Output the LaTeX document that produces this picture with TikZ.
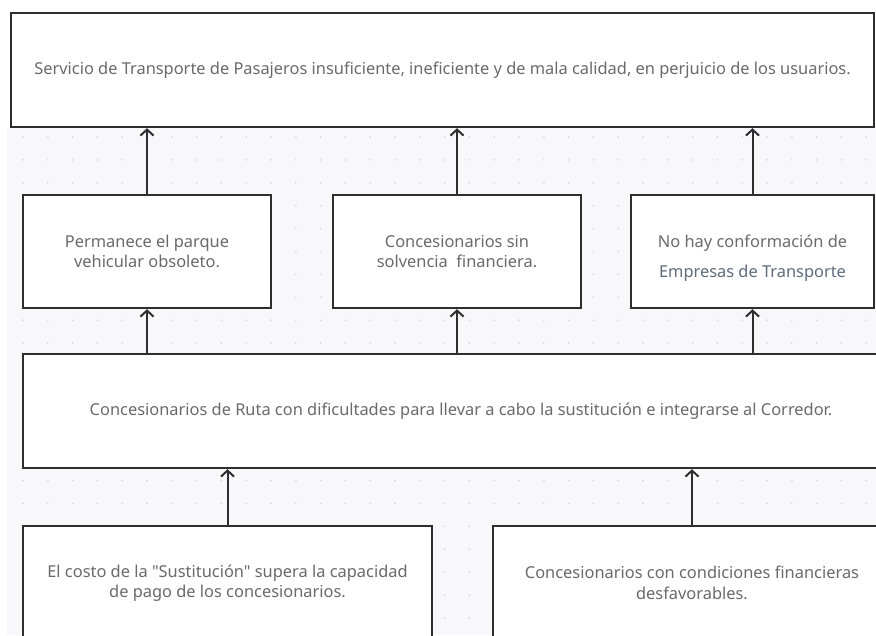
\documentclass[tikz,border=0pt]{standalone}
\usepackage{fontspec}
\setmainfont{Noto Sans}[Ligatures=TeXOff]
\usetikzlibrary{arrows.meta}
\definecolor{bgc}{HTML}{F8F8FA}
\definecolor{dotc}{HTML}{D9D9DE}
\definecolor{edgec}{HTML}{2E2E2E}
\definecolor{txtc}{HTML}{6A6A6A}
\definecolor{bluetxt}{HTML}{5F6C7C}
\tikzset{
  cbox/.style={draw=edgec, line width=2.4pt, fill=white, text=txtc, align=center,
    inner sep=0pt, font=\fontsize{16.4}{20.5}\selectfont, anchor=center},
  uparrow/.style={draw=edgec, line width=2pt, -{Straight Barb[length=6pt,width=13pt,line width=2pt]}}
}
\begin{document}
\begin{tikzpicture}[x=1pt,y=-1pt]
\useasboundingbox (0,0) rectangle (876,635);
\clip (0,0) rectangle (876,635);
\fill[white] (0,0) rectangle (876,635);
\fill[bgc] (7,127) rectangle (876,635);
\foreach \i in {0,...,35} {
  \foreach \j in {0,...,22} {
    \fill[dotc] ({23+24.8*\i},{137+22.9*\j}) circle (1);
  }
}
\node[cbox, minimum width=863, minimum height=114] (top) at (442.5,70)
  {Servicio de Transporte de Pasajeros insuficiente, ineficiente y de mala calidad, en perjuicio de los usuarios.};
\node[cbox, minimum width=248, minimum height=113] (b1) at (147,251.5)
  {Permanece el parque\\vehicular obsoleto.};
\node[cbox, minimum width=248, minimum height=113] (b2) at (457,251.5)
  {Concesionarios sin\\solvencia\ \ financiera.};
\node[cbox, minimum width=243, minimum height=113] (b3) at (752.5,251.5)
  {\rule{0pt}{25pt}No hay conformación de\\[9.5pt]\textcolor{bluetxt}{Empresas de Transporte}};
\node[cbox, minimum width=876, minimum height=114] (wide) at (461,411)
  {Concesionarios de Ruta con dificultades para llevar a cabo la sustitución e integrarse al Corredor.};
\node[cbox, minimum width=409, minimum height=114] (c1) at (227.5,583)
  {El costo de la "Sustitución" supera la capacidad\\de pago de los concesionarios.};
\node[cbox, minimum width=398, minimum height=114] (c2) at (692,583)
  {Concesionarios con condiciones financieras\\desfavorables.};
\draw[uparrow] (b1.north) -- (b1.north |- top.south);
\draw[uparrow] (b2.north) -- (b2.north |- top.south);
\draw[uparrow] (b3.north) -- (b3.north |- top.south);
\draw[uparrow] (b1.south |- wide.north) -- (b1.south);
\draw[uparrow] (b2.south |- wide.north) -- (b2.south);
\draw[uparrow] (b3.south |- wide.north) -- (b3.south);
\draw[uparrow] (c1.north) -- (c1.north |- wide.south);
\draw[uparrow] (c2.north) -- (c2.north |- wide.south);
\end{tikzpicture}
\end{document}
